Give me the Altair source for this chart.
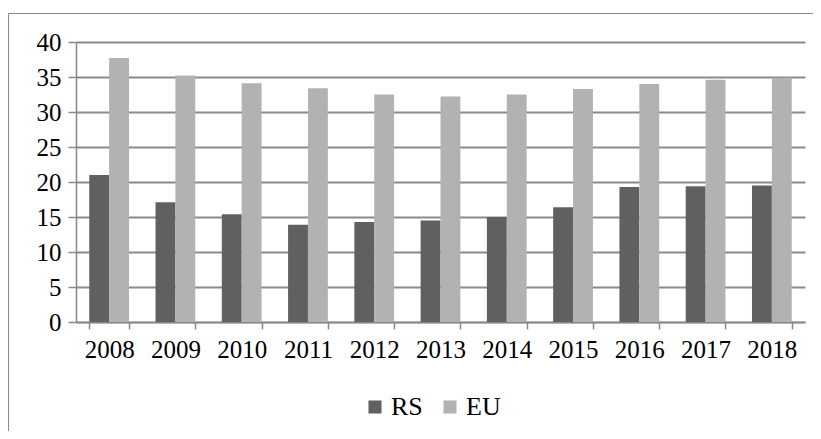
import altair as alt
import pandas as pd

years = ["2008", "2009", "2010", "2011", "2012", "2013", "2014", "2015", "2016", "2017", "2018"]
rs = [21.0, 17.1, 15.4, 13.9, 14.3, 14.5, 15.0, 16.4, 19.3, 19.4, 19.5]
eu = [37.7, 35.2, 34.1, 33.4, 32.5, 32.2, 32.5, 33.3, 34.0, 34.6, 34.9]
series = ["RS", "EU"]
colors = ["#606060", "#b2b2b2"]
y_ticks = [0, 5, 10, 15, 20, 25, 30, 35, 40]

rows = []
for i, yr in enumerate(years):
    rows.append({"year": yr, "series": "RS", "value": rs[i]})
    rows.append({"year": yr, "series": "EU", "value": eu[i]})
df = pd.DataFrame(rows)

FONT = "Liberation Serif"
W, H = 729, 280

bars = alt.Chart(df).mark_bar().encode(
    x=alt.X("year:N", sort=years,
            scale=alt.Scale(paddingInner=0.4, paddingOuter=0.2),
            axis=alt.Axis(title=None, labelAngle=0, tickBand="extent",
                          labelFont=FONT, labelFontSize=25, labelColor="black",
                          labelPadding=8, tickSize=7, tickColor="#888888",
                          domainColor="#888888", domainWidth=1.5, tickWidth=1.5,
                          grid=False)),
    xOffset=alt.XOffset("series:N", sort=series),
    y=alt.Y("value:Q", scale=alt.Scale(domain=[0, 40], nice=False),
            axis=alt.Axis(title=None, values=y_ticks, labelFont=FONT,
                          labelFontSize=25, labelColor="black", labelPadding=7,
                          tickSize=8, tickColor="#888888", tickWidth=1.5,
                          domainColor="#888888", domainWidth=1.5,
                          grid=True, gridColor="#8a8a8a", gridWidth=1.8)),
    color=alt.Color("series:N", sort=series,
                    scale=alt.Scale(domain=series, range=colors),
                    legend=alt.Legend(title=None, orient="none", direction="horizontal",
                                      legendX=286, legendY=352,
                                      symbolType="square", symbolSize=170,
                                      symbolStrokeWidth=0, labelFont=FONT,
                                      labelFontSize=26, labelColor="black",
                                      columnPadding=14, labelOffset=3)),
)

border = alt.Chart(pd.DataFrame({"a": [0]})).mark_rect(
    fill="transparent", stroke="#888888", strokeWidth=1
).encode(
    x=alt.value(-67.5), x2=alt.value(W + 200),
    y=alt.value(-28.5), y2=alt.value(H + 300),
)

chart = alt.layer(border, bars).properties(
    width=W, height=H,
    autosize=alt.AutoSizeParams(type="none"),
    padding={"left": 68, "top": 34, "right": 8, "bottom": 109},
).configure(font=FONT).configure_legend(
    labelFont=FONT, labelFontSize=26, labelColor="black"
).configure_axis(labelFont=FONT).configure_view(stroke=None)

chart.save("out.html", embed_options={"renderer": "svg", "actions": False})
